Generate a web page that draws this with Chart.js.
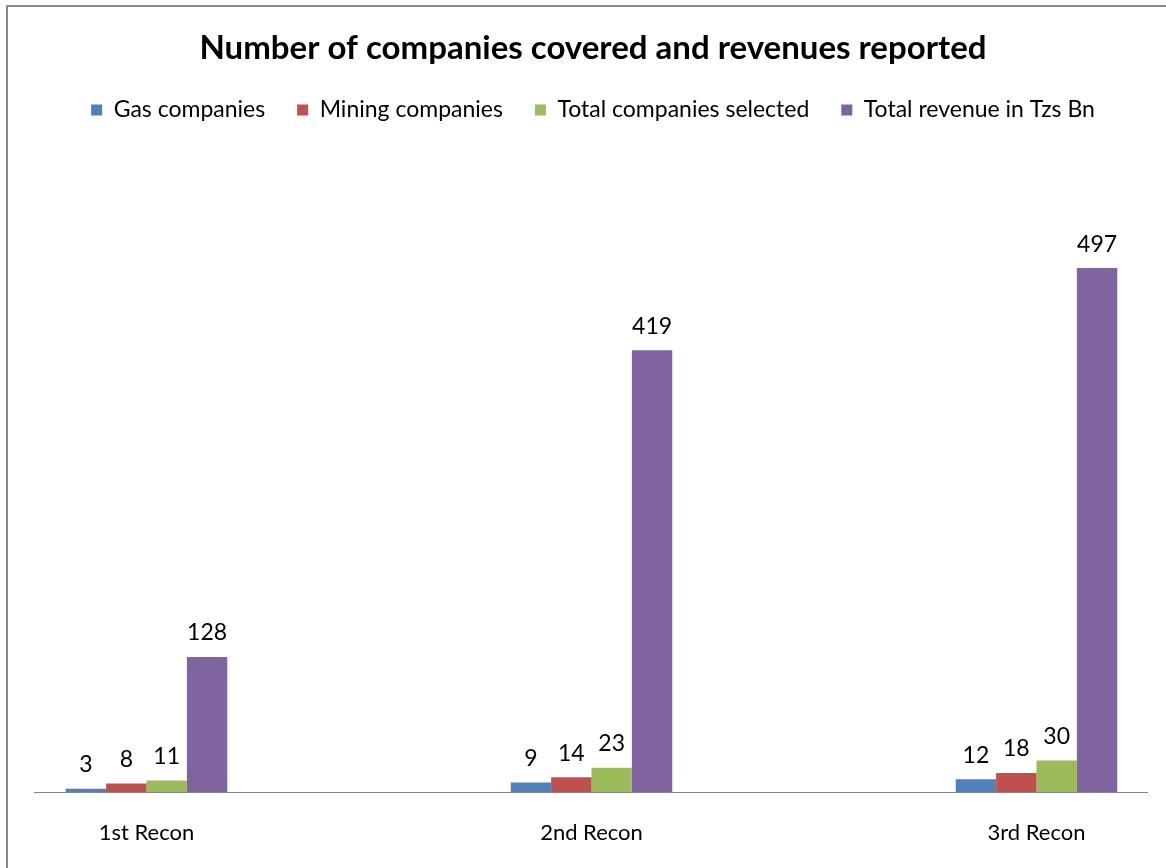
<!DOCTYPE html>
<html>
<head>
<meta charset="utf-8">
<title>Number of companies covered and revenues reported</title>
<script src="https://cdn.jsdelivr.net/npm/chart.js@4/dist/chart.umd.min.js"></script>
<style>
html,body{margin:0;padding:0;background:#fff;overflow:hidden;}
#wrap{position:relative;width:1166px;height:868px;}
#frame{position:absolute;left:6px;top:5px;width:1200px;height:900px;border:2px solid #8a8a8a;box-sizing:border-box;}
#c{position:absolute;left:0;top:0;}
</style>
</head>
<body>
<div id="wrap"><div id="frame"></div><canvas id="c" width="1166" height="868"></canvas></div>
<script>
var LABELS=['1st Recon','2nd Recon','3rd Recon'];
var GAS=[3,9,12];
var MINING=[8,14,18];
var TOTAL_SEL=[11,23,30];
var REVENUE=[128,419,497];
var Y_MAX=600;

var FONT='Lato, "Open Sans", sans-serif';

// value above every bar
var barValues={id:'barValues',afterDatasetsDraw:function(chart){
  var ctx=chart.ctx; ctx.save();
  ctx.font='23px '+FONT; ctx.fillStyle='#000'; ctx.textAlign='center'; ctx.textBaseline='middle';
  chart.data.datasets.forEach(function(ds,i){
    chart.getDatasetMeta(i).data.forEach(function(bar,j){ ctx.fillText(String(ds.data[j]),bar.x,bar.y-24); });
  });
  ctx.restore();
}};

// horizontal axis line runs wider than the category span
var axisLine={id:'axisLine',beforeDatasetsDraw:function(chart){
  var ctx=chart.ctx, y=Math.round(chart.chartArea.bottom)+0.5;
  ctx.save(); ctx.strokeStyle='#868686'; ctx.lineWidth=1.2;
  ctx.beginPath(); ctx.moveTo(34,y); ctx.lineTo(1148,y); ctx.stroke(); ctx.restore();
}};

function ds(label,data,color){return {label:label,data:data,backgroundColor:color,borderWidth:0,clip:false};}
// invisible axes used only to reserve room around the plot
function spacer(pos,size,type){
  return {type:type,position:pos,display:true,grid:{display:false},border:{display:false},ticks:{display:false},
    afterFit:function(s){ if(s.isHorizontal()) s.height=size; else s.width=size; }};
}

new Chart(document.getElementById('c'),{
  type:'bar',
  data:{labels:LABELS,datasets:[
    ds('Gas companies',GAS,'#4F81BD'),
    ds('Mining companies',MINING,'#C0504D'),
    ds('Total companies selected',TOTAL_SEL,'#9BBB59'),
    ds('Total revenue in Tzs Bn',REVENUE,'#8064A2')
  ]},
  options:{
    responsive:false,animation:false,
    datasets:{bar:{categoryPercentage:0.363,barPercentage:1}},
    layout:{autoPadding:false,padding:{left:20,right:0,top:0,bottom:26}},
    scales:{
      x:{offset:false,grid:{display:false},border:{display:false},
         ticks:{padding:20,color:'#000',font:{family:FONT,size:22},maxRotation:0},
         afterFit:function(s){ s.height=50; }},
      xTop:spacer('top',28,'category'),
      y:Object.assign(spacer('left',126.5,'linear'),{min:0,max:Y_MAX}),
      yR:spacer('right',129.5,'linear')
    },
    plugins:{
      title:{display:true,text:'Number of companies covered and revenues reported',color:'#000',
             font:{family:FONT,size:33,weight:'bold',lineHeight:1},padding:{top:31.5,bottom:2}},
      legend:{labels:{color:'#000',font:{family:FONT,size:23},boxWidth:11,boxHeight:11,padding:32}},
      tooltip:{enabled:false}
    }
  },
  plugins:[axisLine,barValues]
});
</script>
</body>
</html>
